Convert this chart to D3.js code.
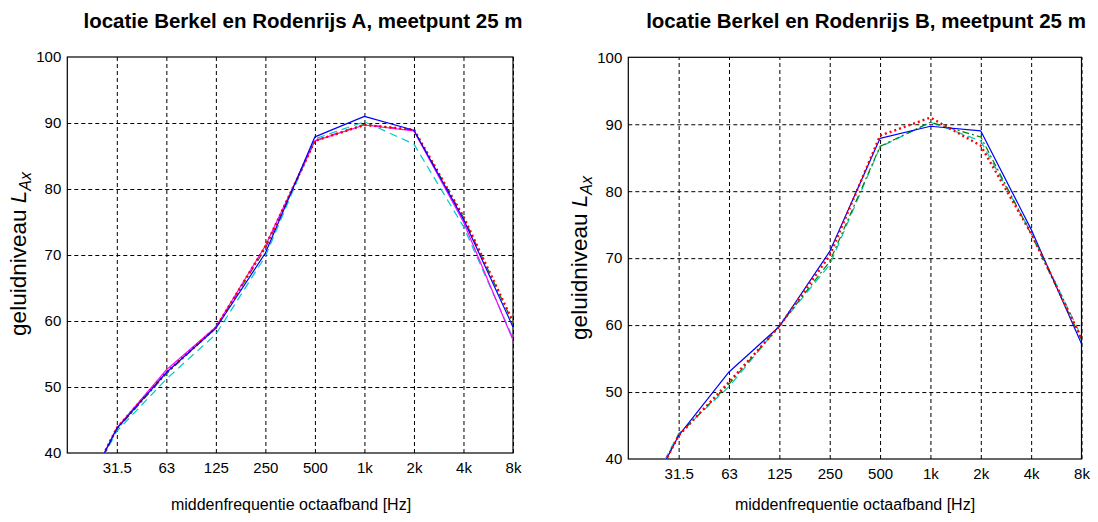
<!DOCTYPE html>
<html>
<head>
<meta charset="utf-8">
<script src="https://cdn.jsdelivr.net/npm/d3@7"></script>
<style>
  html, body { margin: 0; padding: 0; background: #fff; }
  svg { display: block; font-family: "Liberation Sans", Arial, sans-serif; }
</style>
</head>
<body>
<svg id="chart" width="1098" height="522"></svg>
<script>
// ---------- data ----------
const bands = ["16", "31.5", "63", "125", "250", "500", "1k", "2k", "4k", "8k"];
const tickLabels = ["31.5", "63", "125", "250", "500", "1k", "2k", "4k", "8k"];
const yTicks = [40, 50, 60, 70, 80, 90, 100];

const titleA = "locatie Berkel en Rodenrijs A, meetpunt 25 m";
const titleB = "locatie Berkel en Rodenrijs B, meetpunt 25 m";
const xTitle = "middenfrequentie octaafband [Hz]";

// location A
const aBlue    = [28.9, 43.7, 52.2, 58.9, 70.3, 87.9, 91.0, 88.9, 75.4, 59.1];
const aMagenta = [28.9, 43.8, 52.6, 59.1, 71.4, 87.3, 89.7, 88.8, 75.0, 57.1];
const aRed     = [28.9, 43.8, 52.2, 59.0, 71.3, 87.3, 89.7, 89.0, 75.8, 59.9];
const aGreen   = [28.9, 43.6, 52.0, 59.0, 71.0, 87.3, 89.8, 88.9, 75.7, 59.7];
const aCyan    = [28.9, 43.3, 51.2, 58.0, 69.8, 87.6, 90.2, 86.8, 74.3, 57.4];

// location B
const bBlue  = [29.0, 43.5, 53.0, 59.8, 71.0, 87.9, 89.7, 89.0, 74.3, 57.2];
const bRed   = [29.0, 43.5, 51.5, 59.8, 70.4, 88.3, 91.0, 86.8, 73.7, 58.0];
const bGreen = [29.0, 43.6, 51.2, 59.9, 69.5, 86.7, 90.3, 88.1, 73.6, 57.8];
const bCyan  = [29.5, 43.8, 50.8, 59.9, 69.0, 86.6, 90.3, 87.5, 73.8, 58.3];

// ---------- styles ----------
const styles = {
  blue:    { color: "#0000ff", width: 1.2, dash: null },
  magenta: { color: "#ff00ff", width: 1.2, dash: null },
  red:     { color: "#ff0000", width: 2.4, dash: "2,3" },
  green:   { color: "#008000", width: 1.2, dash: "7,3,2,3" },
  cyan:    { color: "#00c8c8", width: 1.2, dash: "8,5" }
};

const svg = d3.select("#chart");

function drawPanel(cfg) {
  const { left, right, top, bottom, series, title, titleX, xLabelX, yLabelX, yLabelY, id } = cfg;
  const x = d3.scaleLinear().domain([-1, 8]).range([left, right]);
  const y = d3.scaleLinear().domain([40, 100]).range([bottom, top]);
  const g = svg.append("g");

  g.append("clipPath").attr("id", "clip" + id)
    .append("rect").attr("x", left).attr("y", top)
    .attr("width", right - left).attr("height", bottom - top);

  // grid
  const gx = g.append("g")
    .attr("transform", `translate(0,${bottom})`)
    .call(d3.axisBottom(x).tickValues(d3.range(0, 9)).tickSize(-(bottom - top)).tickFormat(""));
  gx.select(".domain").remove();
  gx.selectAll(".tick line").attr("stroke", "#000").attr("stroke-dasharray", "4,3").attr("stroke-width", 1);

  const gy = g.append("g")
    .attr("transform", `translate(${left},0)`)
    .call(d3.axisLeft(y).tickValues(yTicks.slice(1, -1)).tickSize(-(right - left)).tickFormat(""));
  gy.select(".domain").remove();
  gy.selectAll(".tick line").attr("stroke", "#000").attr("stroke-dasharray", "4,3").attr("stroke-width", 1);

  // box
  g.append("rect").attr("x", left).attr("y", top)
    .attr("width", right - left).attr("height", bottom - top)
    .attr("fill", "none").attr("stroke", "#000").attr("stroke-width", 1.2);

  // tick labels
  const ax = g.append("g")
    .attr("transform", `translate(0,${bottom})`)
    .call(d3.axisBottom(x).tickValues(d3.range(0, 9)).tickSize(0).tickPadding(9)
      .tickFormat(i => tickLabels[i]));
  ax.select(".domain").remove();
  ax.selectAll("text").attr("font-size", 15).attr("font-family", "Liberation Sans, Arial, sans-serif").attr("fill", "#000");

  const ay = g.append("g")
    .attr("transform", `translate(${left},0)`)
    .call(d3.axisLeft(y).tickValues(yTicks).tickSize(0).tickPadding(6));
  ay.select(".domain").remove();
  ay.selectAll("text").attr("font-size", 15).attr("font-family", "Liberation Sans, Arial, sans-serif").attr("fill", "#000");

  // lines
  const line = d3.line().x((d, i) => x(i - 1)).y(d => y(d));
  const lg = g.append("g").attr("clip-path", `url(#clip${id})`);
  series.forEach(s => {
    const st = styles[s.style];
    lg.append("path").datum(s.values)
      .attr("d", line)
      .attr("fill", "none")
      .attr("stroke", st.color)
      .attr("stroke-width", st.width)
      .attr("stroke-dasharray", st.dash)
      .attr("stroke-linejoin", "round");
  });

  // title
  g.append("text").attr("x", titleX).attr("y", 28)
    .attr("text-anchor", "middle").attr("font-size", 20.5).attr("font-weight", "bold")
    .attr("fill", "#000").text(title);

  // x label
  g.append("text").attr("x", xLabelX).attr("y", 510)
    .attr("text-anchor", "middle").attr("font-size", 16).attr("fill", "#000").text(xTitle);

  // y label
  const yl = g.append("text")
    .attr("transform", `translate(${yLabelX},${yLabelY}) rotate(-90)`)
    .attr("text-anchor", "middle").attr("font-size", 22.5).attr("fill", "#000");
  yl.append("tspan").text("geluidniveau ");
  yl.append("tspan").attr("font-style", "italic").text("L");
  yl.append("tspan").attr("font-style", "italic").attr("font-size", 16).attr("dy", 5).text("Ax");
}

drawPanel({
  id: "A", left: 67.3, right: 513, top: 57, bottom: 453,
  title: titleA, titleX: 303, xLabelX: 291, yLabelX: 26, yLabelY: 254,
  series: [
    { style: "cyan", values: aCyan },
    { style: "green", values: aGreen },
    { style: "magenta", values: aMagenta },
    { style: "red", values: aRed },
    { style: "blue", values: aBlue }
  ]
});

drawPanel({
  id: "B", left: 628.3, right: 1081.5, top: 57.3, bottom: 459,
  title: titleB, titleX: 866, xLabelX: 855, yLabelX: 587, yLabelY: 258,
  series: [
    { style: "cyan", values: bCyan },
    { style: "green", values: bGreen },
    { style: "blue", values: bBlue },
    { style: "red", values: bRed }
  ]
});
</script>
</body>
</html>
